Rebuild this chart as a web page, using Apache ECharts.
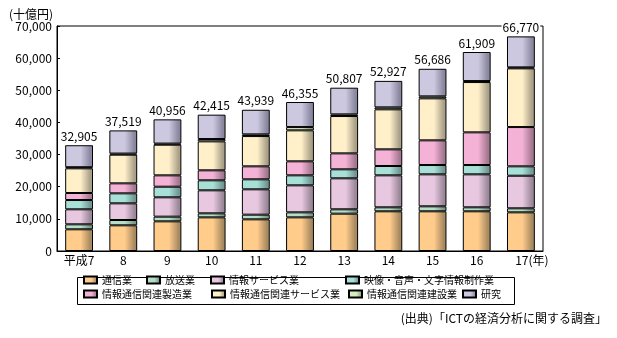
<!DOCTYPE html>
<html><head><meta charset="utf-8">
<script src="https://cdn.jsdelivr.net/npm/echarts@6/dist/echarts.min.js"></script>
<style>html,body{margin:0;padding:0;background:#fff}#c{width:617px;height:338px}</style>
</head><body><div id="c"></div>
<script>
const categories = ['平成7','8','9','10','11','12','13','14','15','16','17'];
const totals = [32905,37519,40956,42415,43939,46355,50807,52927,56686,61909,66770];
const yTicks = [0,10000,20000,30000,40000,50000,60000,70000];
const tsushin   = [6750,7990,9230,10470,9850,10470,11610,12350,12350,12350,12030];
const hoso      = [1550,1650,1450,1250,1450,1560,1360,1240,1550,1240,1250];
const johoSvc   = [4670,5190,6020,7160,7890,8400,9640,9950,9950,10260,10140];
const eizo      = [2890,3110,3300,3110,3110,3110,2800,2900,2900,2900,2920];
const seizo     = [2180,3110,3540,3110,4040,4360,4970,5190,7680,10170,12220];
const kanrenSvc = [7680,8910,9530,9010,9420,9640,11610,12440,13060,15640,18260];
const kensetsu  = [350,350,350,720,530,1020,520,620,620,310,310];
const kenkyu    = [6835,7209,7536,7585,7649,7795,8297,8237,8576,9039,9640];
const seriesNames = ['通信業','放送業','情報サービス業','映像・音声・文字情報制作業','情報通信関連製造業','情報通信関連サービス業','情報通信関連建設業','研究'];
const seriesData = [tsushin,hoso,johoSvc,eizo,seizo,kanrenSvc,kensetsu,kenkyu];
const baseColors = ['#FFCC8C','#B4DEC6','#E8C8E0','#A8E0D8','#F4B2D6','#FFF0CA','#D6ECBE','#CCC8E0'];
const darkColors = ['#A88A60','#7A9888','#9C889A','#729894','#A47890','#AAA088','#90A080','#8A88A0'];

const FONT = '"Noto Sans CJK JP", sans-serif';
function grad(i){
  return new echarts.graphic.LinearGradient(0,0,1,0,[
    {offset:0,color:baseColors[i]},
    {offset:0.55,color:baseColors[i]},
    {offset:0.9,color:darkColors[i]},
    {offset:1,color:darkColors[i]}
  ]);
}
function fmt(v){return String(v).replace(/\B(?=(\d{3})+(?!\d))/g, ',');}

const series = seriesNames.map((n,i)=>({
  name:n, type:'bar', stack:'total', barWidth:'63%',
  data: seriesData[i],
  itemStyle:{color:grad(i), borderColor:'#000', borderWidth:1},
  emphasis:{disabled:true},
  label: i===seriesNames.length-1 ? {
    show:true, position:'top', distance:3, color:'#000', fontSize:12, fontFamily:FONT,
    backgroundColor:'#fff', padding:[0,1],
    formatter:p=>fmt(totals[p.dataIndex])
  } : {show:false}
}));

const legendPos = [
  [83,275],[146,275],[210,275],[345,275],
  [83,289],[211,289],[348,289],[462,289]
];
const legends = seriesNames.map((n,i)=>({
  data:[{name:n, icon:'rect'}], left:legendPos[i][0], top:legendPos[i][1], padding:0,
  itemWidth:13, itemHeight:7, selectedMode:false,
  textStyle:{fontSize:10, fontFamily:FONT, color:'#000'}
}));

const chart = echarts.init(document.getElementById('c'));
chart.setOption({
  animation:false,
  textStyle:{fontFamily:FONT},
  grid:{left:57,right:74,top:26,bottom:87,show:true,borderColor:'#000',borderWidth:1,backgroundColor:'transparent'},
  legend:legends,
  xAxis:{type:'category',data:categories,
    axisLine:{lineStyle:{color:'#000',width:1}},
    axisTick:{inside:true,length:4,lineStyle:{color:'#000'}},
    axisLabel:{color:'#000',fontSize:12,fontFamily:FONT,margin:3,interval:0,
      formatter:v=> v==='17' ? '{p|}17{n|(年)}' : v,
      rich:{p:{width:22,fontSize:12},n:{fontSize:12,fontFamily:FONT,color:'#000'}}}
  },
  yAxis:{type:'value',min:0,max:70000,interval:10000,
    name:'(十億円)',nameLocation:'end',nameGap:3,
    nameTextStyle:{color:'#000',fontSize:12,fontFamily:FONT,align:'right',padding:[0,4,0,0]},
    axisLine:{show:true,lineStyle:{color:'#000',width:1}},
    axisTick:{show:true,inside:true,length:3,lineStyle:{color:'#000'}},
    splitLine:{show:false},
    axisLabel:{color:'#000',fontSize:12,fontFamily:FONT,margin:5,
      formatter:v=> yTicks.indexOf(v)>=0 ? fmt(v) : ''}
  },
  series:series,
  graphic:[
    {type:'rect',shape:{x:77.5,y:277.5,width:437,height:27},style:{fill:'none',stroke:'#000',lineWidth:1},z:-1},
    {type:'text',right:10,top:312,style:{text:'(出典)「ICTの経済分析に関する調査」',fontSize:12,fontFamily:FONT,fill:'#000'}}
  ]
});
</script></body></html>
